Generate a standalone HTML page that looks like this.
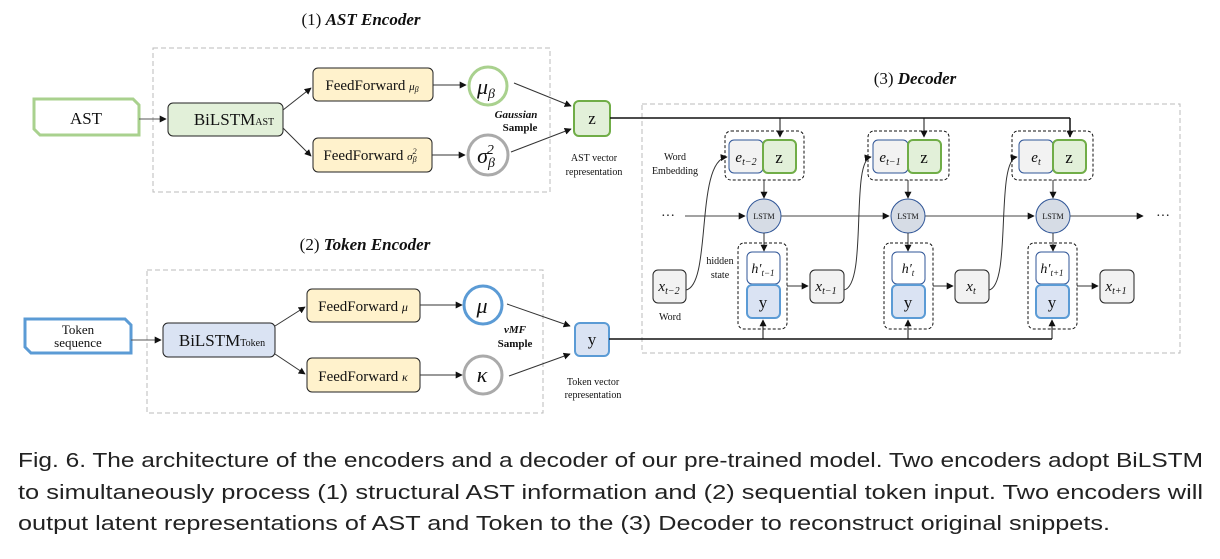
<!DOCTYPE html>
<html><head><meta charset="utf-8"><style>
html,body{margin:0;padding:0;background:#fff;}
svg{display:block;}
.s{font-family:"Liberation Serif",serif;}
.cap{font-family:"Liberation Sans",sans-serif;font-size:20px;fill:#222;}
</style></head><body>
<svg width="1220" height="559" viewBox="0 0 1220 559" xmlns="http://www.w3.org/2000/svg">
<defs>
<marker id="a" viewBox="0 0 10 10" refX="9" refY="5" markerWidth="7" markerHeight="7" markerUnits="userSpaceOnUse" orient="auto"><path d="M0,0 L10,5 L0,10 z" fill="#111"/></marker>
</defs>
<g class="s" fill="#111">
<!-- AST encoder -->
<text x="361" y="25" font-size="17" text-anchor="middle">(1) <tspan font-weight="bold" font-style="italic">AST Encoder</tspan></text>
<rect x="153" y="48" width="397" height="144" fill="none" stroke="#bbb" stroke-dasharray="5,3"/>
<path d="M34,99 H133 L139,105 V135 H40 L34,129 Z" fill="#fff" stroke="#a9d18e" stroke-width="3"/>
<text x="86" y="124" font-size="17" text-anchor="middle">AST</text>
<line x1="139" y1="119" x2="166" y2="119" stroke="#555" marker-end="url(#a)"/>
<rect x="168" y="103" width="115" height="33" rx="5" fill="#e2f0d9" stroke="#222"/>
<text x="234" y="125" font-size="17" text-anchor="middle">BiLSTM<tspan font-size="10">AST</tspan></text>
<line x1="283" y1="110" x2="311" y2="88" stroke="#333" marker-end="url(#a)"/>
<line x1="283" y1="128" x2="311" y2="156" stroke="#333" marker-end="url(#a)"/>
<rect x="313" y="68" width="120" height="33" rx="5" fill="#fff2cc" stroke="#222"/>
<text x="372" y="90" font-size="15" text-anchor="middle">FeedForward <tspan font-style="italic" font-size="11">μ<tspan font-size="8" dy="2">β</tspan></tspan></text>
<rect x="313" y="138" width="119" height="34" rx="5" fill="#fff2cc" stroke="#222"/>
<text x="370" y="160" font-size="15" text-anchor="middle">FeedForward <tspan font-style="italic" font-size="11">σ<tspan font-size="8" dy="2">β</tspan><tspan font-size="8" dy="-8" dx="-4">2</tspan></tspan></text>
<line x1="433" y1="85" x2="466" y2="85" stroke="#333" marker-end="url(#a)"/>
<line x1="432" y1="155" x2="465" y2="155" stroke="#333" marker-end="url(#a)"/>
<circle cx="488" cy="86" r="19" fill="#fff" stroke="#a9d18e" stroke-width="3"/>
<text x="486" y="94" font-size="22" font-style="italic" text-anchor="middle">μ<tspan font-size="14" dy="4">β</tspan></text>
<circle cx="488" cy="155" r="20" fill="#fff" stroke="#aaa" stroke-width="3"/>
<text x="486" y="163" font-size="22" font-style="italic" text-anchor="middle">σ<tspan font-size="14" dy="4">β</tspan><tspan font-size="14" dy="-13" dx="-8">2</tspan></text>
<text x="516" y="118" font-size="11" font-weight="bold" font-style="italic" text-anchor="middle">Gaussian</text>
<text x="520" y="131" font-size="11" font-weight="bold" text-anchor="middle">Sample</text>
<line x1="514" y1="83" x2="571" y2="106" stroke="#333" marker-end="url(#a)"/>
<line x1="511" y1="152" x2="571" y2="129" stroke="#333" marker-end="url(#a)"/>
<rect x="574" y="101" width="36" height="35" rx="5" fill="#e2f0d9" stroke="#70ad47" stroke-width="2"/>
<text x="592" y="124" font-size="17" text-anchor="middle">z</text>
<text x="594" y="161" font-size="10" text-anchor="middle">AST vector</text>
<text x="594" y="175" font-size="10" text-anchor="middle">representation</text>

<!-- Token encoder -->
<text x="365" y="250" font-size="17" text-anchor="middle">(2) <tspan font-weight="bold" font-style="italic">Token Encoder</tspan></text>
<rect x="147" y="270" width="396" height="143" fill="none" stroke="#bbb" stroke-dasharray="5,3"/>
<path d="M25,319 H125 L131,325 V353 H31 L25,347 Z" fill="#fff" stroke="#5b9bd5" stroke-width="3"/>
<text x="78" y="334" font-size="13" text-anchor="middle">Token</text>
<text x="78" y="347" font-size="13" text-anchor="middle">sequence</text>
<line x1="131" y1="340" x2="161" y2="340" stroke="#555" marker-end="url(#a)"/>
<rect x="163" y="323" width="112" height="34" rx="5" fill="#dae3f3" stroke="#222"/>
<text x="222" y="346" font-size="17" text-anchor="middle">BiLSTM<tspan font-size="10">Token</tspan></text>
<line x1="275" y1="326" x2="305" y2="307" stroke="#333" marker-end="url(#a)"/>
<line x1="275" y1="354" x2="305" y2="374" stroke="#333" marker-end="url(#a)"/>
<rect x="307" y="289" width="113" height="33" rx="5" fill="#fff2cc" stroke="#222"/>
<text x="363" y="311" font-size="15" text-anchor="middle">FeedForward <tspan font-style="italic" font-size="12">μ</tspan></text>
<rect x="307" y="358" width="113" height="34" rx="5" fill="#fff2cc" stroke="#222"/>
<text x="363" y="381" font-size="15" text-anchor="middle">FeedForward <tspan font-style="italic" font-size="12">κ</tspan></text>
<line x1="420" y1="305" x2="462" y2="305" stroke="#333" marker-end="url(#a)"/>
<line x1="420" y1="375" x2="462" y2="375" stroke="#333" marker-end="url(#a)"/>
<circle cx="483" cy="305" r="19" fill="#fff" stroke="#5b9bd5" stroke-width="3"/>
<text x="482" y="313" font-size="22" font-style="italic" text-anchor="middle">μ</text>
<circle cx="483" cy="375" r="19" fill="#fff" stroke="#aaa" stroke-width="3"/>
<text x="482" y="382" font-size="22" font-style="italic" text-anchor="middle">κ</text>
<text x="515" y="333" font-size="11" font-weight="bold" font-style="italic" text-anchor="middle">vMF</text>
<text x="515" y="347" font-size="11" font-weight="bold" text-anchor="middle">Sample</text>
<line x1="507" y1="304" x2="570" y2="326" stroke="#333" marker-end="url(#a)"/>
<line x1="509" y1="376" x2="570" y2="354" stroke="#333" marker-end="url(#a)"/>
<rect x="575" y="323" width="34" height="33" rx="5" fill="#dae3f3" stroke="#5b9bd5" stroke-width="2"/>
<text x="592" y="345" font-size="17" text-anchor="middle">y</text>
<text x="593" y="385" font-size="10" text-anchor="middle">Token vector</text>
<text x="593" y="398" font-size="10" text-anchor="middle">representation</text>

<!-- Decoder -->
<text x="915" y="84" font-size="17" text-anchor="middle">(3) <tspan font-weight="bold" font-style="italic">Decoder</tspan></text>
<rect x="642" y="104" width="538" height="249" fill="none" stroke="#bbb" stroke-dasharray="5,3"/>
<polyline points="610,118 1070,118" fill="none" stroke="#111" stroke-width="1.5"/>
<line x1="609" y1="339" x2="1052" y2="339" stroke="#111" stroke-width="1.5"/>
<line x1="685" y1="216" x2="745" y2="216" stroke="#444" marker-end="url(#a)"/>
<line x1="781" y1="216" x2="889" y2="216" stroke="#444" marker-end="url(#a)"/>
<line x1="925" y1="216" x2="1034" y2="216" stroke="#444" marker-end="url(#a)"/>
<line x1="1070" y1="216" x2="1143" y2="216" stroke="#444" marker-end="url(#a)"/>
<text x="668" y="220" font-size="14" text-anchor="middle">···</text>
<text x="1163" y="220" font-size="14" text-anchor="middle">···</text>
<text x="675" y="160" font-size="10" text-anchor="middle">Word</text>
<text x="675" y="174" font-size="10" text-anchor="middle">Embedding</text>
<text x="720" y="264" font-size="10" text-anchor="middle">hidden</text>
<text x="720" y="278" font-size="10" text-anchor="middle">state</text>
<text x="670" y="320" font-size="10" text-anchor="middle">Word</text>

<!-- step 1 -->
<g>
<line x1="780" y1="118" x2="780" y2="137" stroke="#111" marker-end="url(#a)"/>
<rect x="725" y="131" width="79" height="49" rx="6" fill="none" stroke="#111" stroke-dasharray="3,2"/>
<rect x="729" y="140" width="34" height="33" rx="5" fill="#f2f2f2" stroke="#2f5597"/>
<text x="746" y="162" font-size="15" font-style="italic" text-anchor="middle">e<tspan font-size="10" dy="3">t−2</tspan></text>
<rect x="763" y="140" width="33" height="33" rx="5" fill="#e2f0d9" stroke="#70ad47" stroke-width="2"/>
<text x="779" y="163" font-size="17" text-anchor="middle">z</text>
<line x1="764" y1="180" x2="764" y2="198" stroke="#333" marker-end="url(#a)"/>
<circle cx="764" cy="216" r="17" fill="#d6dce5" stroke="#2f5597"/>
<text x="764" y="219" font-size="8" text-anchor="middle">LSTM</text>
<line x1="764" y1="233" x2="764" y2="251" stroke="#333" marker-end="url(#a)"/>
<rect x="738" y="243" width="49" height="86" rx="6" fill="none" stroke="#111" stroke-dasharray="3,2"/>
<rect x="747" y="252" width="33" height="32" rx="5" fill="#fff" stroke="#2f5597"/>
<text x="763" y="273" font-size="14" font-style="italic" text-anchor="middle">h′<tspan font-size="9" dy="3">t−1</tspan></text>
<rect x="747" y="285" width="33" height="33" rx="5" fill="#dae3f3" stroke="#5b9bd5" stroke-width="2"/>
<text x="763" y="308" font-size="17" text-anchor="middle">y</text>
<line x1="763" y1="339" x2="763" y2="320" stroke="#111" marker-end="url(#a)"/>
<line x1="787" y1="286" x2="808" y2="286" stroke="#333" marker-end="url(#a)"/>
<rect x="653" y="270" width="33" height="33" rx="5" fill="#f2f2f2" stroke="#222"/>
<text x="669" y="291" font-size="15" font-style="italic" text-anchor="middle">x<tspan font-size="10" dy="3">t−2</tspan></text>
<path d="M686,290 C712,285 695,160 727,157" fill="none" stroke="#333" marker-end="url(#a)"/>
</g>
<!-- step 2 -->
<g>
<line x1="924" y1="118" x2="924" y2="137" stroke="#111" marker-end="url(#a)"/>
<rect x="868" y="131" width="81" height="49" rx="6" fill="none" stroke="#111" stroke-dasharray="3,2"/>
<rect x="873" y="140" width="35" height="33" rx="5" fill="#f2f2f2" stroke="#2f5597"/>
<text x="890" y="162" font-size="15" font-style="italic" text-anchor="middle">e<tspan font-size="10" dy="3">t−1</tspan></text>
<rect x="908" y="140" width="33" height="33" rx="5" fill="#e2f0d9" stroke="#70ad47" stroke-width="2"/>
<text x="924" y="163" font-size="17" text-anchor="middle">z</text>
<line x1="908" y1="180" x2="908" y2="198" stroke="#333" marker-end="url(#a)"/>
<circle cx="908" cy="216" r="17" fill="#d6dce5" stroke="#2f5597"/>
<text x="908" y="219" font-size="8" text-anchor="middle">LSTM</text>
<line x1="908" y1="233" x2="908" y2="251" stroke="#333" marker-end="url(#a)"/>
<rect x="884" y="243" width="49" height="86" rx="6" fill="none" stroke="#111" stroke-dasharray="3,2"/>
<rect x="892" y="252" width="33" height="32" rx="5" fill="#fff" stroke="#2f5597"/>
<text x="908" y="273" font-size="14" font-style="italic" text-anchor="middle">h′<tspan font-size="9" dy="3">t</tspan></text>
<rect x="892" y="285" width="33" height="33" rx="5" fill="#dae3f3" stroke="#5b9bd5" stroke-width="2"/>
<text x="908" y="308" font-size="17" text-anchor="middle">y</text>
<line x1="908" y1="339" x2="908" y2="320" stroke="#111" marker-end="url(#a)"/>
<line x1="933" y1="286" x2="953" y2="286" stroke="#333" marker-end="url(#a)"/>
<rect x="810" y="270" width="34" height="33" rx="5" fill="#f2f2f2" stroke="#222"/>
<text x="826" y="291" font-size="15" font-style="italic" text-anchor="middle">x<tspan font-size="10" dy="3">t−1</tspan></text>
<path d="M844,290 C868,285 850,160 871,157" fill="none" stroke="#333" marker-end="url(#a)"/>
</g>
<!-- step 3 -->
<g>
<line x1="1070" y1="118" x2="1070" y2="137" stroke="#111" stroke-width="1.5" marker-end="url(#a)"/>
<rect x="1012" y="131" width="81" height="49" rx="6" fill="none" stroke="#111" stroke-dasharray="3,2"/>
<rect x="1019" y="140" width="34" height="33" rx="5" fill="#f2f2f2" stroke="#2f5597"/>
<text x="1036" y="162" font-size="15" font-style="italic" text-anchor="middle">e<tspan font-size="10" dy="3">t</tspan></text>
<rect x="1053" y="140" width="33" height="33" rx="5" fill="#e2f0d9" stroke="#70ad47" stroke-width="2"/>
<text x="1069" y="163" font-size="17" text-anchor="middle">z</text>
<line x1="1053" y1="180" x2="1053" y2="198" stroke="#333" marker-end="url(#a)"/>
<circle cx="1053" cy="216" r="17" fill="#d6dce5" stroke="#2f5597"/>
<text x="1053" y="219" font-size="8" text-anchor="middle">LSTM</text>
<line x1="1053" y1="233" x2="1053" y2="251" stroke="#333" marker-end="url(#a)"/>
<rect x="1028" y="243" width="49" height="86" rx="6" fill="none" stroke="#111" stroke-dasharray="3,2"/>
<rect x="1036" y="252" width="33" height="32" rx="5" fill="#fff" stroke="#2f5597"/>
<text x="1052" y="273" font-size="14" font-style="italic" text-anchor="middle">h′<tspan font-size="9" dy="3">t+1</tspan></text>
<rect x="1036" y="285" width="33" height="33" rx="5" fill="#dae3f3" stroke="#5b9bd5" stroke-width="2"/>
<text x="1052" y="308" font-size="17" text-anchor="middle">y</text>
<line x1="1052" y1="339" x2="1052" y2="320" stroke="#111" marker-end="url(#a)"/>
<line x1="1077" y1="286" x2="1098" y2="286" stroke="#333" marker-end="url(#a)"/>
<rect x="955" y="270" width="34" height="33" rx="5" fill="#f2f2f2" stroke="#222"/>
<text x="971" y="291" font-size="15" font-style="italic" text-anchor="middle">x<tspan font-size="10" dy="3">t</tspan></text>
<path d="M989,290 C1012,285 995,160 1017,157" fill="none" stroke="#333" marker-end="url(#a)"/>
<rect x="1100" y="270" width="34" height="33" rx="5" fill="#f2f2f2" stroke="#222"/>
<text x="1116" y="291" font-size="15" font-style="italic" text-anchor="middle">x<tspan font-size="10" dy="3">t+1</tspan></text>
</g>
</g>
<!-- caption -->
<text class="cap" x="18" y="467" textLength="1185" lengthAdjust="spacingAndGlyphs">Fig. 6.  The architecture of the encoders and a decoder of our pre-trained model. Two encoders adopt BiLSTM</text>
<text class="cap" x="18" y="499" textLength="1185" lengthAdjust="spacingAndGlyphs">to simultaneously process (1) structural AST information and (2) sequential token input. Two encoders will</text>
<text class="cap" x="18" y="530" textLength="1092" lengthAdjust="spacingAndGlyphs">output latent representations of AST and Token to the (3) Decoder to reconstruct original snippets.</text>
</svg>
</body></html>
